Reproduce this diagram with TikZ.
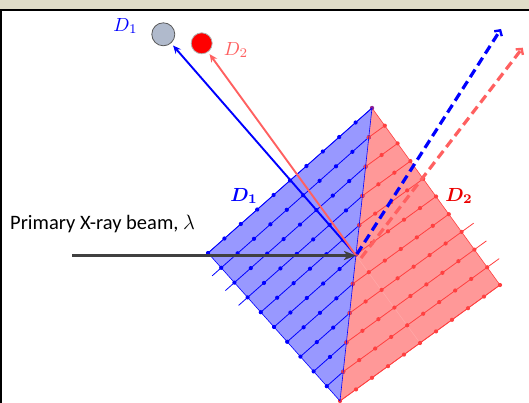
\documentclass[tikz,border=0pt]{standalone}
\usepackage{fontspec}
\setmainfont{Carlito}
\usepackage{bm}
\usetikzlibrary{arrows.meta,calc}

\definecolor{bandbeige}{RGB}{224,221,200}
\definecolor{fillblue}{RGB}{152,152,255}
\definecolor{fillred}{RGB}{255,152,152}
\definecolor{latred}{RGB}{255,64,64}
\definecolor{beamgray}{RGB}{64,64,64}
\definecolor{detgray}{RGB}{176,186,204}
\definecolor{softred}{RGB}{255,96,96}
\definecolor{labelred}{RGB}{235,0,0}

\tikzset{
  bluelat/.style={blue, line width=0.8pt},
  redlat/.style={latred, line width=0.8pt},
  bluedot/.style={fill=blue},
  reddot/.style={fill=latred},
  solidray/.style={line width=1.9pt, -{Stealth[length=8pt,width=7pt]}},
  dashray/.style={line width=3.2pt, dash pattern=on 9pt off 5pt,
    -{Straight Barb[length=4pt,width=9pt,line width=2.4pt]}},
  detector/.style={circle, inner sep=0pt, line width=0.8pt}
}
% enlarged math label
\newcommand{\biglab}[1]{\scalebox{1.9}{$#1$}}

\begin{document}
\begin{tikzpicture}[x=1pt,y=-1pt]
\useasboundingbox (0,0) rectangle (529,403);

% window frame
\fill[bandbeige] (0,0) rectangle (529,9);
\draw[line width=2pt] (0,10) -- (529,10);
\draw[line width=2pt] (1,10) -- (1,403);

% crystal corners and beam impact point
\coordinate (L) at (208,253);
\coordinate (T) at (372,108);
\coordinate (B) at (340,401);
\coordinate (R) at (500,285);
\coordinate (O) at (356,255.5);

% the two domains
\fill[fillblue] (L) -- (T) -- (B) -- cycle;
\fill[fillred] (T) -- (R) -- (B) -- cycle;
\draw[latred, line width=0.6pt] (T) -- (R) -- (B);
\draw[latred!45, line width=0.5pt] (O) -- ($(B)!0.5!(R)$);

% domain D1 lattice planes
\foreach \k in {0,...,9} {
  \pgfmathtruncatemacro\n{10-\k}
  \pgfmathsetmacro\sx{208+13.2*\k}
  \pgfmathsetmacro\sy{253+14.8*\k}
  \pgfmathsetmacro\ex{\sx+16.4*\n}
  \pgfmathsetmacro\ey{\sy-14.5*\n}
  \draw[bluelat] (\sx,\sy) -- (\ex,\ey);
  \ifnum\k>0 \ifnum\k<4
    \draw[bluelat] (\sx,\sy) -- ++(-9,8);
  \fi\fi
  \foreach \i in {0,...,\n} {
    \fill[bluedot] ({\sx+16.4*\i},{\sy-14.5*\i}) circle (2.1pt);
  }
}

% domain D2 lattice planes
\foreach \k in {0,...,9} {
  \pgfmathtruncatemacro\n{10-\k}
  \pgfmathsetmacro\sx{340+3.2*\k}
  \pgfmathsetmacro\sy{401-29.3*\k}
  \pgfmathsetmacro\ex{\sx+16*\n}
  \pgfmathsetmacro\ey{\sy-11.6*\n}
  \draw[redlat] (\sx,\sy) -- (\ex,\ey);
  \ifnum\k>0 \ifnum\k<4
    \draw[redlat] (\ex,\ey) -- ++(12,-8.7);
  \fi\fi
  \foreach \i in {0,...,\n} {
    \fill[reddot] ({\sx+16*\i},{\sy-11.6*\i}) circle (2.1pt);
  }
}
\fill[latred, opacity=0.6] (T) circle (2.1pt);

% domain boundary
\draw[blue, line width=0.6pt] (L) -- (T) -- (B) -- cycle;

% detectors
\node[detector, draw=gray!70!black, fill=detgray, minimum size=23pt] (D1) at (163.3,34.3) {};
\node[detector, draw=gray!60, fill=red, minimum size=21pt] (D2) at (201.7,43.3) {};
\node[text=blue] (D1lab) at (125.5,26) {\biglab{D_1}};
\node[text=softred] (D2lab) at (236,50) {\biglab{D_2}};

% diffracted rays
\draw[solidray, blue, shorten >=3pt] (O) -- (D1);
\draw[solidray, softred, shorten >=2.5pt] (O) -- (D2);
\coordinate (Ob) at (357,254);
\coordinate (Or) at (361,258);
\coordinate (Db) at (501,29);
\coordinate (Dr) at (522.7,47.7);
\draw[dashray, blue] (Ob) -- (Db);
\draw[dashray, softred] (Or) -- (Dr);

% domain labels
\node[text=blue] (L1) at (244,196) {\biglab{\bm{D_1}}};
\node[text=labelred] (L2) at (459,196) {\biglab{\bm{D_2}}};

% primary beam
\coordinate (S) at (72,255.5);
\draw[beamgray, line width=3.5pt, -{Stealth[length=12pt,width=9pt,inset=3pt]}] (S) -- (O);
\node[anchor=west, font=\fontsize{20.5}{24}\selectfont, inner sep=0pt] (beam) at (10,224) {Primary X-ray beam, $\lambda$};
\end{tikzpicture}
\end{document}
